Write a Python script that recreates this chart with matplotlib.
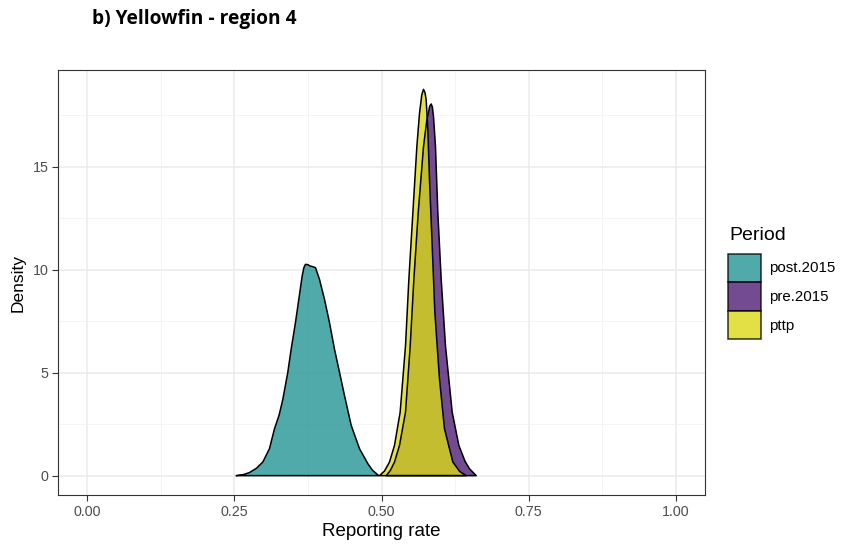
import matplotlib.pyplot as plt
from matplotlib.patches import Patch
from matplotlib.ticker import MultipleLocator

plt.rcParams['font.family'] = ['Liberation Sans', 'DejaVu Sans']

# density curves (x = reporting rate, y = density)
post_x = [0.2528, 0.265, 0.2755, 0.287, 0.2982, 0.3095, 0.318, 0.3260, 0.3322, 0.3407, 0.3464,
          0.3537, 0.3594, 0.3651, 0.3680, 0.3707, 0.3745, 0.3787, 0.3830, 0.3878, 0.3946,
          0.4031, 0.4116, 0.4201, 0.4286, 0.4371, 0.4485, 0.4626, 0.4768, 0.485, 0.4955]
post_y = [0.0, 0.05, 0.15, 0.35, 0.66, 1.31, 2.27, 2.95, 3.70, 5.02, 6.14,
          7.43, 8.56, 9.69, 10.10, 10.26, 10.25, 10.18, 10.15, 10.10, 9.53,
          8.56, 7.43, 6.14, 5.02, 3.89, 2.44, 1.31, 0.58, 0.25, 0.0]

pre_x = [0.508, 0.515, 0.5221, 0.5306, 0.5408, 0.5488, 0.5550, 0.5624, 0.5714, 0.5771,
         0.5820, 0.5845, 0.5865, 0.5884, 0.5918, 0.5958, 0.6015, 0.6088, 0.6202, 0.6315,
         0.6420, 0.6497, 0.661]
pre_y = [0.0, 0.25, 0.66, 1.47, 3.08, 6.30, 9.53, 12.76, 15.98, 17.27,
         17.95, 18.05, 17.90, 17.43, 15.98, 12.76, 9.53, 6.30, 3.08, 1.47,
         0.70, 0.33, 0.0]

pttp_x = [0.4966, 0.505, 0.5136, 0.5221, 0.5317, 0.5408, 0.5465, 0.5533, 0.5601, 0.5646,
          0.5685, 0.5714, 0.5740, 0.5760, 0.5788, 0.5816, 0.5862, 0.5907, 0.5986, 0.6071,
          0.6213, 0.633, 0.644]
pttp_y = [0.0, 0.22, 0.66, 1.47, 3.08, 6.30, 9.53, 12.76, 15.98, 17.59,
          18.50, 18.76, 18.60, 18.24, 16.79, 14.37, 11.14, 7.92, 4.69, 2.27,
          0.66, 0.20, 0.0]

periods = ['post.2015', 'pre.2015', 'pttp']
colors = ['#249595', '#501E76', '#DADA18']
alpha = 0.8

fig = plt.figure(figsize=(8.42, 5.46), dpi=100)
ax = fig.add_axes([58 / 842, 51 / 546, (705 - 58) / 842, (495 - 70) / 546])

curves = [(post_x, post_y), (pre_x, pre_y), (pttp_x, pttp_y)]
for (xs, ys), c in zip(curves, colors):
    ax.fill_between(xs, ys, 0, facecolor=c, alpha=alpha, edgecolor='none', zorder=2)
    ax.fill(xs + [xs[0]], ys + [ys[0]], facecolor='none', edgecolor='black', lw=1.1,
            joinstyle='round', zorder=3)

ax.set_xlim(-0.05, 1.05)
ax.set_ylim(-0.94, 19.70)
ax.xaxis.set_major_locator(MultipleLocator(0.25))
ax.xaxis.set_minor_locator(MultipleLocator(0.125))
ax.yaxis.set_major_locator(MultipleLocator(5))
ax.yaxis.set_minor_locator(MultipleLocator(2.5))
ax.set_xticks([0, 0.25, 0.5, 0.75, 1.0])
ax.set_xticklabels(['0.00', '0.25', '0.50', '0.75', '1.00'])
ax.grid(which='major', color='#EBEBEB', lw=1.1, zorder=0)
ax.grid(which='minor', color='#F2F2F2', lw=0.6, zorder=0)
ax.set_axisbelow(True)
ax.tick_params(which='major', length=4, width=0.8, color='#333333',
               labelsize=10.3, labelcolor='#4D4D4D', pad=3)
ax.tick_params(which='minor', length=0)
for s in ax.spines.values():
    s.set_color('#333333')
    s.set_linewidth(0.8)

ax.set_xlabel('Reporting rate', fontsize=13.5, labelpad=3)
ax.set_ylabel('Density', fontsize=12.5, labelpad=5)

# legend: keys + labels via ax.legend, title placed on its own
handles = [Patch(facecolor=c, alpha=alpha, edgecolor='black', lw=1.1) for c in colors]
leg = ax.legend(handles, periods, loc='upper left',
                bbox_to_anchor=(1.027, 0.582), frameon=False, fontsize=10.8,
                handlelength=2.2, handleheight=2.55,
                labelspacing=0.0, handletextpad=0.5, borderaxespad=0)
for h in leg.legend_handles:
    h.set_alpha(alpha)
    h.set_edgecolor('black')
fig.text(729 / 842, 1 - 236 / 546, 'Period', fontsize=14, va='center', ha='left')

fig.text(92 / 842, 1 - 19 / 546, 'b) Yellowfin - region 4', fontsize=13.8,
         fontweight='bold', family='Open Sans', va='center', ha='left')

fig.savefig('out.png', dpi=100)
